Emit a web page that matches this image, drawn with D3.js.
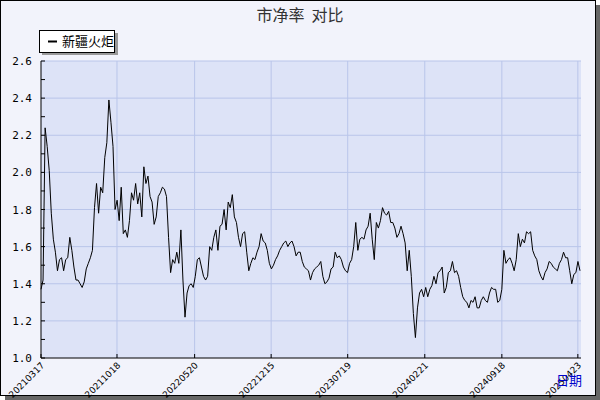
<!DOCTYPE html>
<html><head><meta charset="utf-8">
<script src="https://cdn.jsdelivr.net/npm/d3@7/dist/d3.min.js"></script>
<style>body{margin:0;background:#fff}</style>
</head><body>
<script>
// price-to-book ratio, sampled left to right
const pbValues = [
  1.37,1.42,2.24,2.14,2.01,1.78,1.64,1.57,1.47,1.53,1.54,1.47,1.53,1.54,1.65,1.58,1.49,1.42,1.42,1.40,
  1.38,1.41,1.48,1.51,1.54,1.58,1.81,1.94,1.78,1.92,1.89,2.08,2.16,2.39,2.27,2.14,1.80,1.85,1.74,1.92,
  1.67,1.69,1.65,1.74,1.89,1.85,1.94,1.83,1.89,1.76,2.03,1.94,1.98,1.87,1.84,1.72,1.76,1.87,1.89,1.92,
  1.91,1.87,1.65,1.46,1.53,1.51,1.57,1.51,1.69,1.42,1.22,1.35,1.39,1.40,1.38,1.44,1.53,1.54,1.49,1.44,
  1.42,1.44,1.60,1.58,1.65,1.69,1.58,1.71,1.72,1.80,1.69,1.84,1.81,
  1.88,1.76,1.73,1.65,1.60,1.67,1.68,1.57,1.47,1.51,1.54,1.53,1.57,1.60,1.67,1.63,1.62,1.58,1.51,1.48,
  1.50,1.53,1.55,1.58,1.60,1.62,1.63,1.60,1.62,1.63,1.60,1.55,1.57,1.57,1.52,1.49,1.48,1.47,1.42,1.46,
  1.48,1.49,1.50,1.52,1.44,1.40,1.41,1.43,1.48,1.49,1.57,1.54,1.55,1.53,1.49,1.47,1.46,1.51,1.53,1.60,
  1.73,1.58,1.64,1.65,1.64,1.69,1.71,1.78,1.64,1.53,1.73,1.70,1.74,1.81,1.78,1.77,1.79,1.73,1.73,1.70,
  1.65,1.67,1.71,1.67,1.62,1.47,1.58,1.44,1.24,1.11,1.27,1.35,1.37,1.33,
  1.38,1.33,1.37,1.39,1.44,1.40,1.46,1.47,1.49,1.35,1.38,1.46,1.47,1.52,1.46,1.47,1.44,1.38,1.33,1.31,
  1.30,1.27,1.31,1.30,1.33,1.27,1.27,1.31,1.33,1.31,1.30,1.35,1.38,1.37,1.37,1.30,1.31,1.37,1.58,1.51,
  1.53,1.54,1.51,1.47,1.53,1.67,1.60,1.64,1.62,1.68,1.67,1.68,1.58,1.55,1.53,1.47,1.44,1.42,1.46,1.48,
  1.52,1.51,1.49,1.48,1.47,1.51,1.53,1.57,1.54,1.54,1.47,1.40,1.45,1.46,1.52,1.47
];
const tickLabels = ["20210317","20211018","20220520","20221215","20230719","20240221","20240918","20250423"];
const tickFrac = [0, 0.141, 0.285, 0.427, 0.569, 0.712, 0.855, 0.996];
const yGridValues = [1.0,1.2,1.4,1.6,1.8,2.0,2.2,2.4,2.6];
const yMinorValues = d3.range(10, 27).map(d => d / 10);

(function () {
const W = 600, H = 400;
const svg = d3.select("body").append("svg").attr("width", W).attr("height", H);

// frame + shadow
svg.append("rect").attr("x", 5).attr("y", 5).attr("width", 595).attr("height", 395).attr("fill", "#666");
svg.append("rect").attr("x", 0.5).attr("y", 0.5).attr("width", 595).attr("height", 395)
  .attr("fill", "#f2f3fb").attr("stroke", "#000");

const pl = 41, pr = 581, pt = 61, pb = 358;
const n = pbValues.length;
const x = d3.scaleLinear().domain([0, n - 1]).range([pl, 580]);
const y = d3.scaleLinear().domain([1.0, 2.6]).range([pb, pt]);

svg.append("rect").attr("x", pl).attr("y", pt).attr("width", pr - pl).attr("height", pb - pt)
  .attr("fill", "#dde3f7");

// grid
svg.append("g").selectAll("line").data(yGridValues.slice(1)).join("line")
  .attr("x1", pl).attr("x2", pr).attr("y1", d => y(d)).attr("y2", d => y(d))
  .attr("stroke", "#b9c5ea");
const tickIdx = tickFrac.map(f => f * (n - 1));
svg.append("g").selectAll("line").data(tickIdx.slice(1)).join("line")
  .attr("x1", d => x(d)).attr("x2", d => x(d)).attr("y1", pt).attr("y2", pb)
  .attr("stroke", "#b9c5ea");

// line
svg.append("path").datum(pbValues)
  .attr("d", d3.line().x((d, i) => x(i)).y(d => y(d)))
  .attr("fill", "none").attr("stroke", "#000").attr("stroke-width", 1);

// axes
svg.append("line").attr("x1", pl).attr("x2", pl).attr("y1", pt).attr("y2", pb).attr("stroke", "#000");
svg.append("line").attr("x1", pl).attr("x2", pr).attr("y1", pb).attr("y2", pb).attr("stroke", "#000");
svg.append("g").selectAll("line").data(yMinorValues).join("line")
  .attr("x1", pl).attr("x2", pl + 4).attr("y1", d => y(d)).attr("y2", d => y(d)).attr("stroke", "#000");
svg.append("g").selectAll("line").data(tickIdx).join("line")
  .attr("x1", d => x(d)).attr("x2", d => x(d)).attr("y1", pb).attr("y2", pb - 4).attr("stroke", "#000");

svg.append("g").selectAll("text").data(yGridValues).join("text")
  .attr("x", pl - 9).attr("y", d => y(d) + 4).attr("text-anchor", "end")
  .attr("font-family", "DejaVu Sans Mono").attr("font-size", 11).text(d => d.toFixed(1));

svg.append("g").selectAll("text").data(tickIdx).join("text")
  .attr("transform", d => `translate(${x(d) + 4},${pb + 8}) rotate(-45)`)
  .attr("text-anchor", "end").attr("font-family", "DejaVu Sans").attr("font-size", 9)
  .text((d, i) => tickLabels[i]);

svg.append("text").attr("x", 582).attr("y", 385).attr("text-anchor", "end").attr("fill", "#0000cc")
  .attr("font-family", "Noto Sans CJK SC").attr("font-size", 13).text("日期");

// title
svg.append("text").attr("x", 300).attr("y", 21).attr("text-anchor", "middle").attr("fill", "#333")
  .attr("font-family", "Noto Sans CJK SC").attr("font-size", 16).attr("xml:space", "preserve").text("市净率  对比");

// legend
svg.append("rect").attr("x", 42).attr("y", 33).attr("width", 76).attr("height", 22).attr("fill", "#999");
svg.append("rect").attr("x", 39.5).attr("y", 30.5).attr("width", 75).attr("height", 22).attr("fill", "#fff").attr("stroke", "#000");
svg.append("line").attr("x1", 48).attr("x2", 57).attr("y1", 41.5).attr("y2", 41.5).attr("stroke", "#000").attr("stroke-width", 2);
svg.append("text").attr("x", 62).attr("y", 46).attr("font-family", "Noto Sans CJK SC").attr("font-size", 13).text("新疆火炬");
})();
</script>
</body></html>
